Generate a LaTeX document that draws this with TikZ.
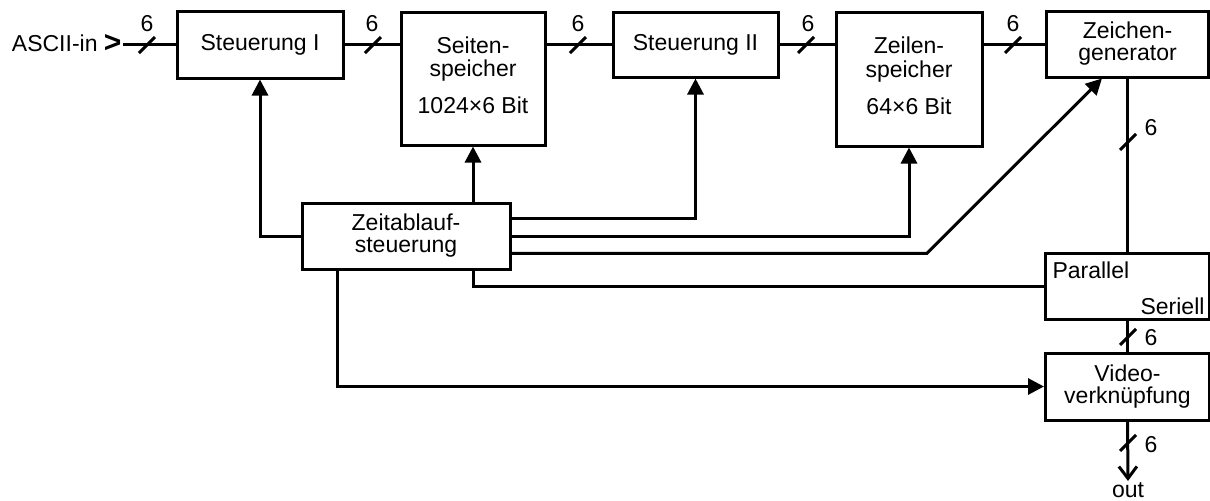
\documentclass[tikz,border=0pt]{standalone}
\usepackage{fontspec}
\setmainfont{Liberation Sans}
\usetikzlibrary{arrows.meta,calc}

% short stroke across a bus line
\newcommand{\busmark}[1]{\draw (#1) +(-8,8) -- +(8,-8);}
% text lifted a bit inside the tall memory boxes
\newcommand{\memtext}[3]{\raisebox{2.5pt}{\begin{tabular}{@{}c@{}}#1\\#2\\[7pt]#3\end{tabular}}}

\begin{document}
\begin{tikzpicture}[x=0.5pt,y=-0.5pt,line width=1.5pt,
	block/.style={draw,line width=1.5pt,inner sep=0pt,align=center,font=\fontsize{11.5}{11}\selectfont},
	txt/.style={inner sep=0pt,font=\fontsize{11.5}{11}\selectfont},
	sig/.style={-{Triangle[length=8pt,width=8pt]}}]
	\useasboundingbox (0,0) rectangle (1210,500);
	
	\node[block,minimum width=83pt,minimum height=33.5pt] (st1) at (260,44.5) {Steuerung I};
	\node[block,minimum width=72pt,minimum height=66.5pt] (seit) at (473,78.5) {\memtext{Seiten-}{speicher}{1024×6 Bit}};
	\node[block,minimum width=82.5pt,minimum height=32.5pt] (st2) at (695.5,44.5) {Steuerung II};
	\node[block,minimum width=73pt,minimum height=67pt] (zeil) at (909,79) {\memtext{Zeilen-}{speicher}{64×6 Bit}};
	\node[block,minimum width=81pt,minimum height=33pt] (zg) at (1127.5,44) {Zeichen-\\generator};
	\node[block,minimum width=104pt,minimum height=33pt] (zt) at (406,236) {Zeitablauf-\\steuerung};
	\node[block,minimum width=82pt,minimum height=33pt] (ps) at (1127.5,286) {};
	\node[block,minimum width=82pt,minimum height=33.5pt] (vid) at (1127.5,386.5) {Video-\\verknüpfung};
	
	\node[txt,anchor=base west] (par) at ($(ps.north west)+(7,27)$) {Parallel};
	\node[txt,anchor=base east] (ser) at ($(ps.south east)+(-5,-6)$) {Seriell};
	\node[txt,anchor=base east] (asc) at (123,51) {ASCII-in {\fontsize{15}{15}\selectfont\bfseries\raisebox{-0.5pt}{>}}};
	\node[txt] (out) at (1128,490) {out};
	
	% data path
	\draw (asc.east |- st1.west) -- (st1.west);
	\draw (st1.east) -- (st1.east -| seit.west);
	\draw (st2.west -| seit.east) -- (st2.west);
	\draw (st2.east) -- (st2.east -| zeil.west);
	\draw (zg.west -| zeil.east) -- (zg.west);
	\draw (zg.south) -- (ps.north);
	\draw (ps.south) -- (vid.north);
	\draw[-{Straight Barb[length=6pt,width=9pt]}] (vid.south) -- (out.north);
	
	\busmark{147,45} \node[txt] (b1) at (147,24) {6};
	\busmark{373,45} \node[txt] (b2) at (372,24) {6};
	\busmark{578,45} \node[txt] (b3) at (578,24) {6};
	\busmark{806,45} \node[txt] (b4) at (808,24) {6};
	\busmark{1013,45} \node[txt] (b5) at (1013,24) {6};
	\busmark{1128,142} \node[txt,anchor=west] (b6) at (1143,128) {6};
	\busmark{1128,337} \node[txt,anchor=west] (b7) at (1143,338) {6};
	\busmark{1128,443} \node[txt,anchor=west] (b8) at (1143,445) {6};
	
	% timing lines
	\coordinate (zt1) at ($(zt.north east)!0.25!(zt.south east)$);
	\coordinate (zt3) at ($(zt.north east)!0.75!(zt.south east)$);
	\coordinate (zgin) at ($(zg.south west)!0.345!(zg.south east)$);
	\coordinate (knick) at ($(zgin)+(-175,175.5)$);
	\draw[sig] (zt.west) -| (st1.south);
	\draw[sig] (zt.north -| seit.south) -- (seit.south);
	\draw[sig] (zt1) -| (st2.south);
	\draw[sig] (zt.east) -| (zeil.south);
	\draw[sig] (zt3) -- (zt3 -| knick) -- (zgin);
	\draw (zt.south -| seit.south) |- (ps.west);
	\draw[sig] ($(zt.south west)+(37,0)$) |- (vid.west);
\end{tikzpicture}
\end{document}
